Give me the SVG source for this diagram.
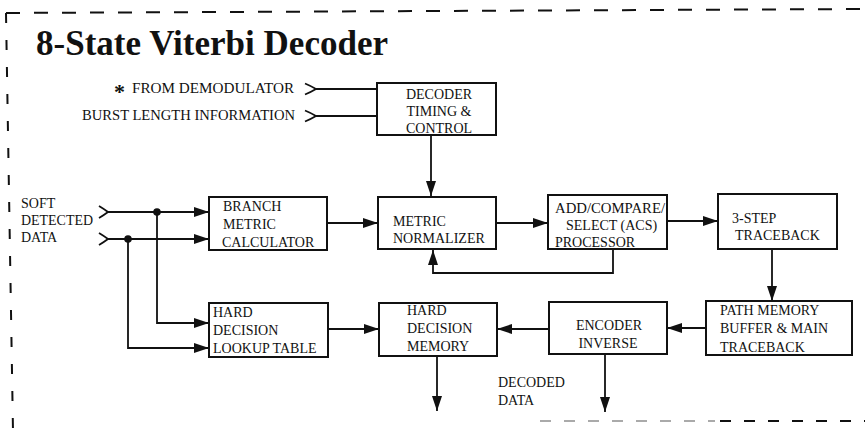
<svg xmlns="http://www.w3.org/2000/svg" width="865" height="431" viewBox="0 0 865 431">
<defs>
<style>
.box{fill:#fff;stroke:#111;stroke-width:2}
.t{font-family:"Liberation Serif","Times New Roman",serif;font-size:14px;fill:#111}
.ln{fill:none;stroke:#111;stroke-width:1.8}
.brd{fill:none;stroke:#111;stroke-width:2}
</style>
<marker id="ah" viewBox="0 0 15 10" refX="15" refY="5" markerWidth="15" markerHeight="10" markerUnits="userSpaceOnUse" orient="auto">
<path d="M0,0 L15,5 L0,10 z" fill="#111"/>
</marker>
</defs>
<rect width="865" height="431" fill="#fff"/>

<g id="border">
<path class="brd" d="M6,13 L865,9" stroke-dasharray="14 14"/>
<path class="brd" d="M6,13 L13,431" stroke-dasharray="10 17"/>
<path class="brd" d="M540,421 L715,421" style="stroke:#aaa" stroke-dasharray="11 13"/>
<path class="brd" d="M720,421 L865,421" stroke-dasharray="11 13"/>
</g>

<text x="36" y="55" font-family="'Liberation Serif','Times New Roman',serif" font-weight="bold" font-size="36" textLength="352" lengthAdjust="spacingAndGlyphs" fill="#111">8-State Viterbi Decoder</text>

<g id="inputs">
<text class="t" x="114" y="99" style="font-size:22px;font-weight:bold">*</text>
<text class="t" x="132" y="93" textLength="162" lengthAdjust="spacingAndGlyphs">FROM  DEMODULATOR</text>
<text class="t" x="82" y="120" textLength="213" lengthAdjust="spacingAndGlyphs">BURST LENGTH INFORMATION</text>
<text class="t" x="21" y="208">SOFT</text>
<text class="t" x="21" y="225" textLength="72" lengthAdjust="spacingAndGlyphs">DETECTED</text>
<text class="t" x="21" y="242">DATA</text>
<text class="t" x="498" y="387">DECODED</text>
<text class="t" x="498" y="405">DATA</text>
</g>

<g id="connectors">
<path class="ln" d="M305,83.5 Q311,86 316,89 Q311,92 305,94.5" stroke-width="2"/>
<path class="ln" d="M316,89 H377"/>
<path class="ln" d="M305,110.5 Q311,113 316,116 Q311,119 305,121.5" stroke-width="2"/>
<path class="ln" d="M316,116 H377"/>
<path class="ln" d="M99,206 Q104,209 108,212 Q104,215 99,218" stroke-width="2"/>
<path class="ln" d="M108,212 H209" marker-end="url(#ah)"/>
<path class="ln" d="M99,233 Q104,236 108,239 Q104,242 99,245" stroke-width="2"/>
<path class="ln" d="M108,239 H209" marker-end="url(#ah)"/>
<circle cx="157" cy="212" r="3.8" fill="#111"/>
<circle cx="128" cy="239" r="3.8" fill="#111"/>
<path class="ln" d="M157,212 V323 H209" marker-end="url(#ah)"/>
<path class="ln" d="M128,239 V348 H209" marker-end="url(#ah)"/>
<path class="ln" d="M431,135 V196" marker-end="url(#ah)"/>
<path class="ln" d="M327,223 H378" marker-end="url(#ah)"/>
<path class="ln" d="M496,223 H548" marker-end="url(#ah)"/>
<path class="ln" d="M613,249 V273 H433 V250" marker-end="url(#ah)"/>
<path class="ln" d="M667,221 H718" marker-end="url(#ah)"/>
<path class="ln" d="M772,249 V301" marker-end="url(#ah)"/>
<path class="ln" d="M706,328 H667" marker-end="url(#ah)"/>
<path class="ln" d="M549,329 H497" marker-end="url(#ah)"/>
<path class="ln" d="M328,329 H379" marker-end="url(#ah)"/>
<path class="ln" d="M437,356 V411" marker-end="url(#ah)"/>
<path class="ln" d="M605,354 V412" marker-end="url(#ah)"/>
</g>

<g id="timing">
<rect class="box" x="377" y="83" width="119" height="52"/>
<text class="t" x="439" y="99" text-anchor="middle">DECODER</text>
<text class="t" x="439" y="116" text-anchor="middle">TIMING &amp;</text>
<text class="t" x="439" y="133" text-anchor="middle">CONTROL</text>
</g>

<g id="branch">
<rect class="box" x="209" y="197" width="118" height="53"/>
<text class="t" x="223" y="211">BRANCH</text>
<text class="t" x="223" y="229">METRIC</text>
<text class="t" x="222" y="247">CALCULATOR</text>
</g>

<g id="normalizer">
<rect class="box" x="378" y="197" width="118" height="52"/>
<text class="t" x="393" y="226">METRIC</text>
<text class="t" x="393" y="243">NORMALIZER</text>
</g>

<g id="acs">
<rect class="box" x="548" y="195" width="119" height="54"/>
<text class="t" x="555" y="213" textLength="110" lengthAdjust="spacingAndGlyphs">ADD/COMPARE/</text>
<text class="t" x="566" y="230">SELECT (ACS)</text>
<text class="t" x="555" y="247">PROCESSOR</text>
</g>

<g id="traceback3">
<rect class="box" x="718" y="194" width="119" height="55"/>
<text class="t" x="732" y="223">3-STEP</text>
<text class="t" x="735" y="240">TRACEBACK</text>
</g>

<g id="pathmem">
<rect class="box" x="706" y="301" width="146" height="54"/>
<text class="t" x="720" y="315">PATH MEMORY</text>
<text class="t" x="720" y="333">BUFFER &amp; MAIN</text>
<text class="t" x="720" y="352">TRACEBACK</text>
</g>

<g id="encoder">
<rect class="box" x="549" y="302" width="118" height="52"/>
<text class="t" x="609" y="330" text-anchor="middle">ENCODER</text>
<text class="t" x="608" y="348" text-anchor="middle">INVERSE</text>
</g>

<g id="hdmemory">
<rect class="box" x="379" y="303" width="118" height="53"/>
<text class="t" x="407" y="315">HARD</text>
<text class="t" x="407" y="333">DECISION</text>
<text class="t" x="407" y="351">MEMORY</text>
</g>

<g id="lookup">
<rect class="box" x="209" y="303" width="119" height="54"/>
<text class="t" x="213" y="317">HARD</text>
<text class="t" x="213" y="335">DECISION</text>
<text class="t" x="213" y="353">LOOKUP TABLE</text>
</g>
</svg>
